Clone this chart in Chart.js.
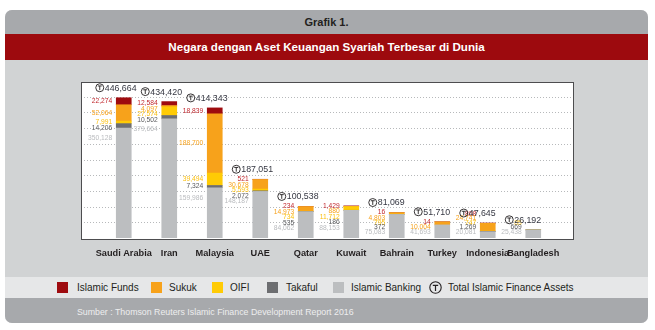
<!DOCTYPE html>
<html>
<head>
<meta charset="utf-8">
<script src="https://cdn.jsdelivr.net/npm/chart.js@4.4.1/dist/chart.umd.min.js"></script>
<style>
body{margin:0;width:655px;height:330px;background:#fff;font-family:"Liberation Sans",Arial,sans-serif;overflow:hidden;position:relative}
#panel{position:absolute;left:5px;top:10px;width:643px;height:313px;border-radius:7px;overflow:hidden;background:#d1d3d4}
#head{height:24px;background:#a7a9ac;color:#231f20;font-weight:bold;font-size:11px;text-align:center;line-height:25px}
#title{height:26px;background:#9d0a0e;color:#fff;font-weight:bold;font-size:11.6px;text-align:center;line-height:26px}
#legend{position:absolute;left:0;top:267px;width:643px;height:21px;background:#e6e7e8;font-size:10px;color:#231f20}
#legend .kotak{position:absolute;top:5px;width:11px;height:11px}
#legend .teks{position:absolute;top:0;line-height:22px;white-space:nowrap}
#legend svg{position:absolute;top:4px}
#foot{position:absolute;left:0;top:288px;width:643px;height:25px;background:#a7a9ac;color:#eeeeef;font-size:8.8px;line-height:28px;padding-left:72px;box-sizing:border-box}
#grafik{position:absolute;left:0;top:0}
</style>
</head>
<body>
<div id="panel">
  <div id="head">Grafik 1.</div>
  <div id="title">Negara dengan Aset Keuangan Syariah Terbesar di Dunia</div>
  <div id="legend"></div>
  <div id="foot">Sumber : Thomson Reuters Islamic Finance Development Report 2016</div>
</div>
<canvas id="grafik" width="655" height="330"></canvas>
<script>
// Data (USD juta)
const negara = ['Saudi Arabia', 'Iran', 'Malaysia', 'UAE', 'Qatar', 'Kuwait', 'Bahrain', 'Turkey', 'Indonesia', 'Bangladesh'];
const islamicBanking = [350128, 379664, 159986, 148187, 84062, 88153, 75083, 41693, 20081, 25438];
const takaful = [14206, 10502, 7324, 2072, 535, 186, 372, null, 1269, 669];
const oifi = [7991, 27574, 39494, 5593, 734, 11712, 795, null, 747, 85];
const sukuk = [52064, 4097, 188700, 30678, 14973, 880, 4803, 10004, 24741, null];
const islamicFunds = [22274, 12584, 18839, 521, 234, 1429, 16, 14, 808, null];
const totalAset = [446664, 434420, 414343, 187051, 100538, null, 81069, 51710, 47645, 26192];
const yMax = 500000;
const yStep = 50000;

// urutan tumpukan: bawah ke atas
const seri = [
    { nama: 'Islamic Banking', data: islamicBanking, warna: '#bcbec0', warnaLabel: '#b9bbbe' },
    { nama: 'Takaful', data: takaful, warna: '#6d6e71', warnaLabel: '#58595b' },
    { nama: 'OIFI', data: oifi, warna: '#ffcb05', warnaLabel: '#fcc010' },
    { nama: 'Sukuk', data: sukuk, warna: '#f7a21b', warnaLabel: '#f7a21b' },
    { nama: 'Islamic Funds', data: islamicFunds, warna: '#9e0b0f', warnaLabel: '#c1272d' }
];

function fmt(v) {
    return v.toLocaleString('en-US');
}

function gambarT(ctx, cx, cy, r, lebar) {
    ctx.save();
    ctx.strokeStyle = '#231f20';
    ctx.lineWidth = lebar;
    ctx.beginPath();
    ctx.arc(cx, cy, r, 0, Math.PI * 2);
    ctx.stroke();
    ctx.beginPath();
    ctx.moveTo(cx - r * 0.5, cy - r * 0.45);
    ctx.lineTo(cx + r * 0.5, cy - r * 0.45);
    ctx.moveTo(cx, cy - r * 0.45);
    ctx.lineTo(cx, cy + r * 0.6);
    ctx.stroke();
    ctx.restore();
}

// Legenda HTML
const legendX = [52, 146, 207, 262, 328];
const legendTeksX = [72, 164, 225, 281, 346];
const legendEl = document.getElementById('legend');
[4, 3, 2, 1, 0].forEach((d, k) => {
    const kotak = document.createElement('div');
    kotak.className = 'kotak';
    kotak.style.left = legendX[k] + 'px';
    kotak.style.background = seri[d].warna;
    legendEl.appendChild(kotak);
    const teks = document.createElement('div');
    teks.className = 'teks';
    teks.style.left = legendTeksX[k] + 'px';
    teks.textContent = seri[d].nama;
    legendEl.appendChild(teks);
});
legendEl.insertAdjacentHTML('beforeend',
    '<svg style="left:424px" width="13" height="13" viewBox="0 0 13 13"><circle cx="6.5" cy="6.5" r="5.7" fill="none" stroke="#231f20" stroke-width="1.1"/><path d="M3.8 4.3H9.2M6.5 4.3V10" stroke="#231f20" stroke-width="1.2" fill="none"/></svg>' +
    '<div class="teks" style="left:443px">Total Islamic Finance Assets</div>');

const pluginLatar = {
    id: 'latar',
    beforeDatasetsDraw(chart) {
        const { ctx, chartArea } = chart;
        const y = chart.scales.y;
        const kiri = chartArea.left - 20, kanan = chartArea.right + 17;
        const atas = chartArea.top + 1, bawah = y.getPixelForValue(0) + 1;
        ctx.save();
        ctx.fillStyle = '#ffffff';
        ctx.fillRect(kiri, atas, kanan - kiri, bawah - atas);
        ctx.strokeStyle = '#b7b9bb';
        ctx.lineWidth = 1;
        ctx.setLineDash([1, 2]);
        for (let v = yStep; v < yMax; v += yStep) {
            const py = Math.round(y.getPixelForValue(v)) + 0.5;
            ctx.beginPath();
            ctx.moveTo(kiri, py);
            ctx.lineTo(kanan, py);
            ctx.stroke();
        }
        ctx.restore();
    },
    afterDatasetsDraw(chart) {
        const { ctx, chartArea } = chart;
        const y = chart.scales.y;
        const kiri = chartArea.left - 20, kanan = chartArea.right + 17;
        const atas = chartArea.top + 1, bawah = y.getPixelForValue(0) + 1;
        ctx.save();
        ctx.strokeStyle = '#4d4d4f';
        ctx.lineWidth = 1;
        ctx.strokeRect(Math.round(kiri) + 0.5, Math.round(atas) + 0.5, Math.round(kanan - kiri), Math.round(bawah - atas));

        const batas = y.getPixelForValue(0) - 6;
        negara.forEach((n, i) => {
            const item = [];
            let barKiri = null;
            for (let d = seri.length - 1; d >= 0; d--) {
                const v = seri[d].data[i];
                if (v == null) continue;
                const el = chart.getDatasetMeta(d).data[i];
                const tengah = (el.y + el.base) / 2;
                const nat = d === 0 ? Math.min(tengah, el.y + 10) : tengah;
                barKiri = el.x - el.width / 2;
                item.push({ v, y: nat, warna: seri[d].warnaLabel });
            }
            for (let k = 1; k < item.length; k++) {
                item[k].y = Math.max(item[k].y, item[k - 1].y + 5.5);
            }
            const last = item.length - 1;
            if (item[last].y > batas) {
                item[last].y = batas;
                for (let k = last - 1; k >= 0; k--) {
                    item[k].y = Math.min(item[k].y, item[k + 1].y - 4.5);
                }
            }
            ctx.font = '6.7px "Liberation Sans", Arial, sans-serif';
            ctx.textAlign = 'right';
            ctx.textBaseline = 'middle';
            item.forEach(it => {
                ctx.fillStyle = it.warna;
                ctx.fillText(fmt(it.v), barKiri - 4, it.y);
            });

            if (totalAset[i] != null) {
                const ty = y.getPixelForValue(totalAset[i]) - 10;
                gambarT(ctx, barKiri - 16.5, ty, 4, 0.9);
                ctx.font = '8.8px "Liberation Sans", Arial, sans-serif';
                ctx.textAlign = 'left';
                ctx.fillStyle = '#343641';
                ctx.fillText(fmt(totalAset[i]), barKiri - 11.5, ty + 0.5);
            }
        });
        ctx.restore();
    }
};

new Chart(document.getElementById('grafik'), {
    type: 'bar',
    data: {
        labels: negara,
        datasets: seri.map(s => ({
            label: s.nama,
            data: s.data,
            backgroundColor: s.warna,
            borderWidth: 0,
            barThickness: 15
        }))
    },
    options: {
        responsive: false,
        animation: false,
        layout: { padding: { left: 101, right: 99, top: 81, bottom: 72 } },
        plugins: { legend: { display: false }, tooltip: { enabled: false } },
        scales: {
            x: {
                stacked: true,
                grid: { display: false, drawTicks: false },
                border: { display: false },
                ticks: {
                    padding: 10,
                    color: '#231f20',
                    font: { family: '"Liberation Sans", Arial, sans-serif', size: 9.2, weight: 'bold' },
                    maxRotation: 0,
                    autoSkip: false
                },
                afterFit(scale) { scale.height = 20; }
            },
            y: {
                stacked: true,
                display: false,
                min: 0,
                max: yMax
            }
        }
    },
    plugins: [pluginLatar]
});
</script>
</body>
</html>
